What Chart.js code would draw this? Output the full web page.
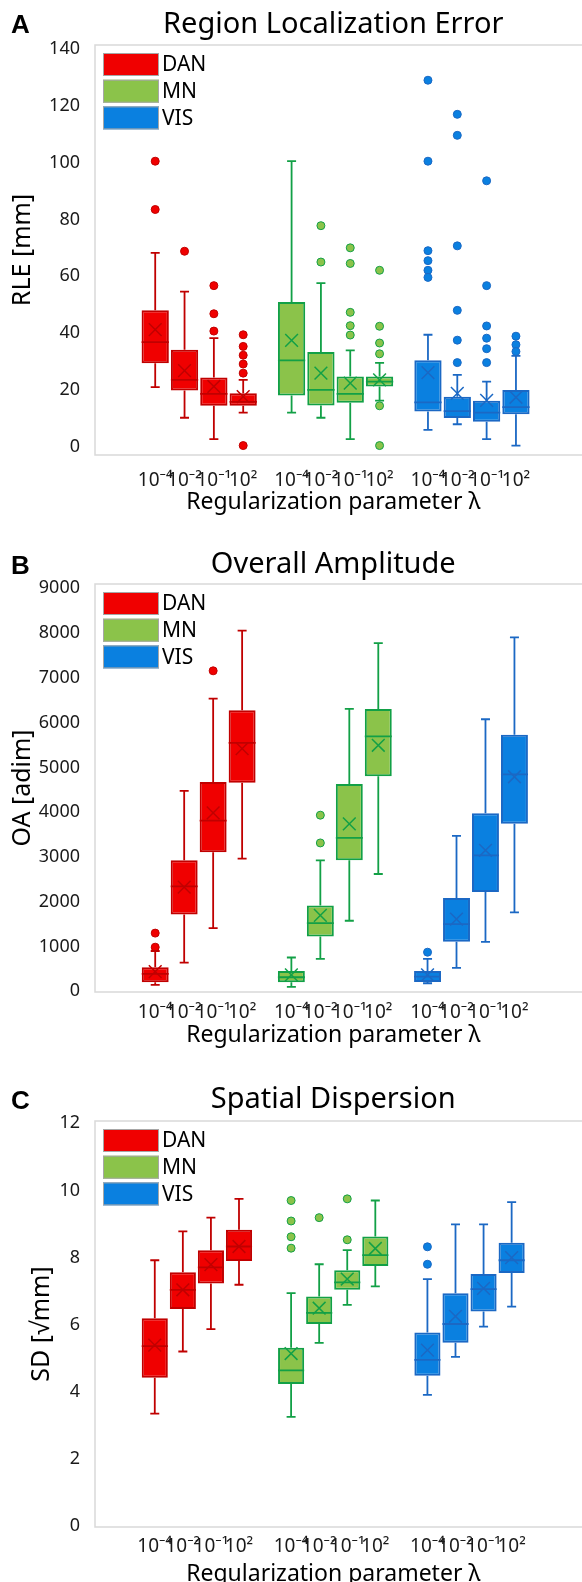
<!DOCTYPE html>
<html>
<head>
<meta charset="utf-8">
<script src="https://cdn.jsdelivr.net/npm/chart.js@4.4.1/dist/chart.umd.min.js"></script>
<style>
  body { margin: 0; background: #fff; }
  #wrap { position: relative; width: 582px; height: 1582px; overflow: hidden; background: #fff; }
  canvas { position: absolute; left: 0; }
  .tag { position: absolute; left: 11px; font: bold 26px "Liberation Sans", Arial, sans-serif; line-height: 1; color: #000; }
</style>
</head>
<body>
<div id="wrap">
  <canvas id="rle" width="582" height="540" style="top:0"></canvas>
  <canvas id="oa" width="582" height="540" style="top:540px"></canvas>
  <canvas id="sd" width="582" height="540" style="top:1080px"></canvas>
  <div class="tag" style="top:11px">A</div>
  <div class="tag" style="top:552px">B</div>
  <div class="tag" style="top:1087px">C</div>
</div>
<script>
// groups and regularization values (x categories)
const groups = ['DAN', 'MN', 'VIS'];
const lambdas = ['10⁻⁴', '10⁻²', '10⁻¹', '10²'];

// y tick values
const rleTicks = [0, 20, 40, 60, 80, 100, 120, 140];
const oaTicks = [0, 1000, 2000, 3000, 4000, 5000, 6000, 7000, 8000, 9000];
const sdTicks = [0, 2, 4, 6, 8, 10, 12];

// each stat array: DAN λ1..λ4, MN λ1..λ4, VIS λ1..λ4
// A - Region Localization Error
const rleMin  = [21, 10.2, 2.7, 12, 12, 10.2, 2.7, 16.2, 5.9, 7.9, 2.7, 0.4];
const rleQ1   = [29.4, 19.8, 14.4, 14.4, 18, 14.5, 15.5, 21.2, 12.4, 10.1, 8.8, 11.4];
const rleMed  = [36.8, 23.5, 18.6, 15.8, 30.4, 20, 18.6, 22.9, 15.6, 12.5, 12, 13.9];
const rleQ3   = [48, 34.1, 24.4, 18.8, 50.9, 33.3, 24.7, 24.7, 30.4, 17.6, 16.2, 20];
const rleMax  = [68.2, 54.6, 38.2, 23.5, 100.5, 57.6, 33.9, 29.5, 39.4, 25.3, 22.9, 32];
const rleMean = [41.2, 26.8, 21.2, 17.6, 37.4, 25.9, 22.4, 23.5, 26.1, 18.8, 16.3, 17.4];
const rleOut  = [[100.5, 83.5], [68.8], [56.7, 46.8, 40.7], [39.4, 35.3, 32.2, 29.1, 25.9, 0.4],
                 [], [77.8, 65], [70, 64.5, 47.3, 42.6, 39.3], [62.1, 42.4, 36.5, 32.7, 14.4, 0.4],
                 [129, 100.5, 69, 65.5, 62.1, 59.6], [117, 109.6, 70.7, 48, 37.5, 29.6],
                 [93.6, 56.7, 42.5, 38.2, 34.5, 29.6], [38.9, 35.9, 33.5]];

// B - Overall Amplitude
const oaMin  = [142, 642, 1410, 2963, 97, 724, 1575, 2619, 179, 522, 1104, 1761];
const oaQ1   = [201, 1716, 3104, 4657, 201, 1224, 2925, 4800, 209, 1104, 2216, 3739];
const oaMed  = [388, 2343, 3813, 5546, 313, 1522, 3425, 5695, 328, 1500, 3037, 4845];
const oaQ3   = [537, 2925, 4672, 6277, 455, 1918, 4627, 6307, 455, 2082, 3978, 5732];
const oaMax  = [900, 4478, 6538, 8053, 754, 2925, 6307, 7777, 724, 3470, 6075, 7903];
const oaMean = [440, 2328, 3985, 5420, 366, 1694, 3739, 5494, 366, 1612, 3149, 4791];
const oaOut  = [[1299, 985], [], [7157], [], [], [3933, 3313], [], [], [873], [], [], []];

// C - Spatial Dispersion
const sdMin  = [3.35, 5.2, 5.87, 7.19, 3.25, 5.46, 6.59, 7.14, 3.91, 5.04, 5.94, 6.54];
const sdQ1   = [4.42, 6.47, 7.23, 7.9, 4.23, 6.02, 7.04, 7.75, 4.48, 5.46, 6.39, 7.54];
const sdMed  = [5.36, 7.04, 7.71, 8.33, 4.64, 6.35, 7.26, 8.07, 4.95, 6.02, 7.06, 7.92];
const sdQ3   = [6.19, 7.56, 8.22, 8.83, 5.31, 6.84, 7.62, 8.63, 5.77, 6.94, 7.51, 8.44];
const sdMax  = [7.92, 8.78, 9.19, 9.75, 6.94, 7.8, 8.22, 9.7, 7.36, 8.99, 8.99, 9.65];
const sdMean = [5.39, 7.04, 7.79, 8.33, 5.14, 6.49, 7.36, 8.27, 5.24, 6.25, 7.08, 8.0];
const sdOut  = [[], [], [], [], [9.7, 9.09, 8.62, 8.28], [9.19], [9.75, 8.53], [], [8.32, 7.8], [], [], []];

const fills = ['#f00000', '#8bc34a', '#0a80e0'];
const edges = ['#c00000', '#12a046', '#1b68c4'];
const FONT = '"Noto Sans", "Open Sans", sans-serif';

// whiskers, caps and medians drawn from the bar datasets
const boxPlugin = {
    id: 'boxParts',
    afterDatasetsDraw(chart) {
        const ctx = chart.ctx;
        const xs = chart.scales.x, ys = chart.scales.y;
        chart.data.datasets.forEach((ds, di) => {
            if (!ds.stats) return;
            const meta = chart.getDatasetMeta(di);
            ctx.save();
            ctx.strokeStyle = ds.borderColor;
            ctx.lineWidth = 1.8;
            ds.data.forEach((d, i) => {
                const k = ds.stats.offset + i;
                const x = xs.getPixelForValue(d.x);
                const half = meta.data[i].width / 2;
                const yMin = ys.getPixelForValue(ds.stats.min[k]);
                const yMax = ys.getPixelForValue(ds.stats.max[k]);
                const yQ1 = ys.getPixelForValue(d.y[0]);
                const yQ3 = ys.getPixelForValue(d.y[1]);
                const yMed = ys.getPixelForValue(ds.stats.med[k]);
                ctx.beginPath();
                ctx.moveTo(x, yQ3); ctx.lineTo(x, yMax);
                ctx.moveTo(x - 4.5, yMax); ctx.lineTo(x + 4.5, yMax);
                ctx.moveTo(x, yQ1); ctx.lineTo(x, yMin);
                ctx.moveTo(x - 4.5, yMin); ctx.lineTo(x + 4.5, yMin);
                ctx.moveTo(x - half, yMed); ctx.lineTo(x + half, yMed);
                ctx.stroke();
            });
            ctx.restore();
        });
    }
};

// light grey plot frame (open on the right, like the source)
const framePlugin = {
    id: 'frame',
    beforeDatasetsDraw(chart) {
        const a = chart.chartArea, ctx = chart.ctx;
        ctx.save();
        ctx.strokeStyle = '#d9d9d9';
        ctx.lineWidth = 1.5;
        ctx.beginPath();
        ctx.moveTo(chart.width, a.top); ctx.lineTo(a.left, a.top);
        ctx.lineTo(a.left, a.bottom); ctx.lineTo(chart.width, a.bottom);
        ctx.stroke();
        ctx.restore();
    }
};

// legend inside the plot area, top left
const legendPlugin = {
    id: 'boxLegend',
    afterDraw(chart) {
        const a = chart.chartArea, ctx = chart.ctx;
        ctx.save();
        ctx.font = '21px ' + FONT;
        ctx.textBaseline = 'middle';
        chart.data.datasets.filter(ds => ds.stats).forEach((ds, g) => {
            const x = a.left + 8, y = a.top + 8 + g * 26.7;
            ctx.fillStyle = ds.backgroundColor;
            ctx.fillRect(x, y, 56, 23);
            ctx.strokeStyle = '#a6a6a6';
            ctx.lineWidth = 1;
            ctx.strokeRect(x + 0.5, y + 0.5, 55, 22);
            ctx.fillStyle = '#000';
            ctx.fillText(ds.label, x + 59, y + 12.5);
        });
        ctx.restore();
    }
};

function buildPanel(id, p) {
    const datasets = [];
    const positions = [];
    groups.forEach((g, gi) => {
        const off = gi * lambdas.length;
        const xOf = i => gi * p.gap + i;
        lambdas.forEach((l, i) => positions.push(xOf(i)));
        datasets.push({
            type: 'bar',
            label: g,
            data: lambdas.map((l, i) => ({x: xOf(i), y: [p.q1[off + i], p.q3[off + i]]})),
            backgroundColor: fills[gi],
            borderColor: edges[gi],
            borderWidth: 2,
            borderSkipped: false,
            grouped: false,
            barPercentage: 0.93,
            categoryPercentage: 1,
            order: 3,
            stats: {offset: off, min: p.min, max: p.max, med: p.med}
        });
        datasets.push({
            type: 'scatter',
            label: g + ' outliers',
            data: lambdas.flatMap((l, i) => p.out[off + i].map(v => ({x: xOf(i), y: v}))),
            pointStyle: 'circle',
            pointRadius: 4,
            backgroundColor: fills[gi],
            borderColor: edges[gi],
            borderWidth: 1,
            order: 2
        });
        datasets.push({
            type: 'scatter',
            label: g + ' mean',
            data: lambdas.map((l, i) => ({x: xOf(i), y: p.mean[off + i]})),
            pointStyle: 'crossRot',
            pointRadius: 9,
            borderColor: edges[gi],
            borderWidth: 1.5,
            order: 1
        });
    });

    return new Chart(document.getElementById(id), {
        type: 'bar',
        data: {datasets},
        plugins: [framePlugin, boxPlugin, legendPlugin],
        options: {
            responsive: false,
            devicePixelRatio: 1,
            animation: false,
            events: [],
            layout: {padding: 0},
            plugins: {
                legend: {display: false},
                tooltip: {enabled: false},
                title: {
                    display: true,
                    text: p.title,
                    fullSize: false,
                    color: '#000',
                    font: {family: FONT, size: 29, weight: 'normal', lineHeight: 1.2},
                    padding: {top: p.titleTop, bottom: p.titleBottom}
                }
            },
            scales: {
                x: {
                    type: 'linear',
                    min: p.xMin,
                    max: p.xMax,
                    grid: {display: false, drawTicks: false},
                    border: {display: false},
                    afterBuildTicks: s => { s.ticks = positions.map(v => ({value: v})); },
                    afterFit: s => { s.height = p.xAxisH; },
                    ticks: {
                        autoSkip: false,
                        maxRotation: 0,
                        padding: p.xTickPad,
                        color: '#1a1a1a',
                        font: {family: FONT, size: 19},
                        callback: (v, i) => lambdas[i % lambdas.length]
                    },
                    title: {
                        display: true,
                        text: 'Regularization parameter λ',
                        color: '#000',
                        font: {family: FONT, size: 23},
                        padding: {top: 0, bottom: p.xTitlePad}
                    }
                },
                y: {
                    min: p.yMin,
                    max: p.yMax,
                    grid: {display: false, drawTicks: false},
                    border: {display: false},
                    afterBuildTicks: s => { s.ticks = p.ticks.map(v => ({value: v})); },
                    afterFit: s => { s.width = 95; },
                    ticks: {
                        padding: 15,
                        color: '#1a1a1a',
                        font: {family: FONT, size: 18},
                        callback: v => String(v)
                    },
                    title: {
                        display: true,
                        text: p.yTitle,
                        color: '#000',
                        font: {family: FONT, size: 25},
                        padding: {top: p.yTitlePad, bottom: 0}
                    }
                }
            }
        }
    });
}

buildPanel('rle', {
    title: 'Region Localization Error', yTitle: 'RLE [mm]', ticks: rleTicks,
    min: rleMin, q1: rleQ1, med: rleMed, q3: rleQ3, max: rleMax, mean: rleMean, out: rleOut,
    yMin: -2.92, yMax: 141.4,
    xMin: -1.376, xMax: 13.517, gap: 4.65,
    titleTop: 7.6, titleBottom: 2.6, xAxisH: 85, xTickPad: 14, xTitlePad: 24, yTitlePad: 8
});

buildPanel('oa', {
    title: 'Overall Amplitude', yTitle: 'OA [adim]', ticks: oaTicks,
    min: oaMin, q1: oaQ1, med: oaMed, q3: oaQ3, max: oaMax, mean: oaMean, out: oaOut,
    yMin: -16, yMax: 9096,
    xMin: -1.393, xMax: 13.684, gap: 4.7,
    titleTop: 7.6, titleBottom: 1.6, xAxisH: 88, xTickPad: 9, xTitlePad: 30.5, yTitlePad: 8
});

buildPanel('sd', {
    title: 'Spatial Dispersion', yTitle: 'SD [√mm]', ticks: sdTicks,
    min: sdMin, q1: sdQ1, med: sdMed, q3: sdQ3, max: sdMax, mean: sdMean, out: sdOut,
    yMin: -0.03, yMax: 12.07,
    xMin: -1.422, xMax: 14.137, gap: 4.856,
    titleTop: 2.6, titleBottom: 3.6, xAxisH: 93, xTickPad: 8, xTitlePad: 32, yTitlePad: 27
});
</script>
</body>
</html>
